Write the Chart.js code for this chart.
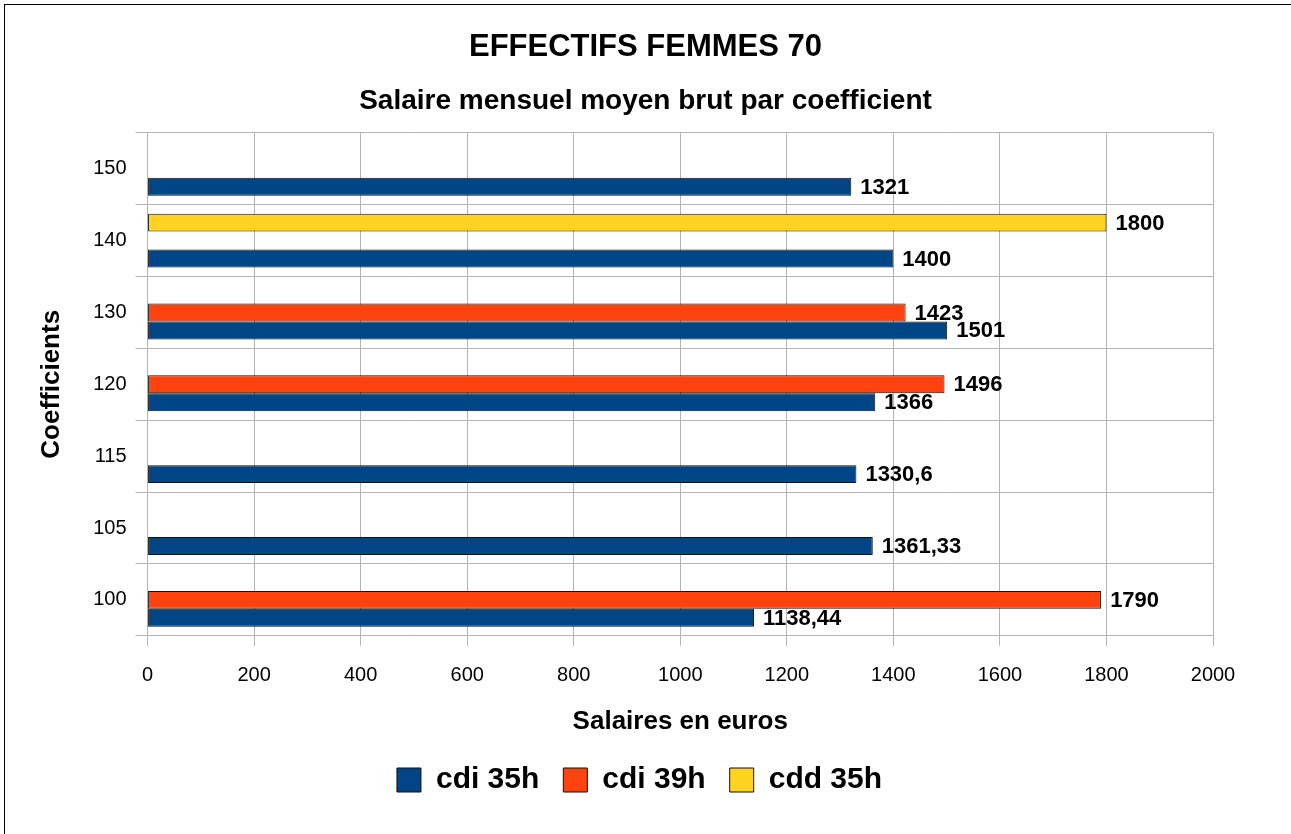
<!DOCTYPE html>
<html lang="fr">
<head>
<meta charset="UTF-8">
<title>EFFECTIFS FEMMES 70</title>
<script src="https://cdn.jsdelivr.net/npm/chart.js@4.4.1/dist/chart.umd.min.js"></script>
<style>
html, body {
margin: 0;
padding: 0;
background: #fff;
overflow: hidden;
}
.frame {
position: absolute;
left: 4px;
top: 4px;
width: 1300px;
height: 840px;
border-top: 1px solid #000;
border-left: 1px solid #000;
}
.wrap {
position: absolute;
left: 0;
top: 0;
width: 1291px;
height: 834px;
}
</style>
</head>
<body>
<div class="frame"></div>
<div class="wrap"><canvas id="chart"></canvas></div>
<script>
// coefficients, top to bottom
const coefficients = ['150', '140', '130', '120', '115', '105', '100'];
const cdi35h = [1321, 1400, 1501, 1366, 1330.6, 1361.33, 1138.44];
const cdi39h = [null, null, 1423, 1496, null, null, 1790];
const cdd35h = [null, 1800, null, null, null, null, null];
const xTicks = [0, 200, 400, 600, 800, 1000, 1200, 1400, 1600, 1800, 2000];

const FONT = "'Liberation Sans', Arial, sans-serif";

// value labels at the end of each bar
const barLabels = {
id: 'barLabels',
afterDatasetsDraw(chart) {
const ctx = chart.ctx;
ctx.save();
ctx.font = 'bold 22px ' + FONT;
ctx.fillStyle = '#000';
ctx.textAlign = 'left';
ctx.textBaseline = 'middle';
chart.data.datasets.forEach((ds, i) => {
const meta = chart.getDatasetMeta(i);
meta.data.forEach((bar, j) => {
const v = ds.data[j];
if (v === null || v === undefined) return;
ctx.fillText(String(v).replace('.', ','), bar.x + 9, bar.y + 1);
});
});
ctx.restore();
}
};

// titles centred on the whole page, legend nudged right
const recentre = {
id: 'recentre',
afterLayout(chart) {
chart.boxes.forEach(box => {
if (box === chart.legend) {
box.left += 15;
box.right += 15;
} else if (box.position === 'top') {
box.left = 0;
box.right = chart.width;
}
});
}
};

new Chart(document.getElementById('chart'), {
type: 'bar',
data: {
labels: coefficients,
datasets: [
{ label: 'cdd 35h', data: cdd35h, backgroundColor: '#ffd320' },
{ label: 'cdi 39h', data: cdi39h, backgroundColor: '#ff420e' },
{ label: 'cdi 35h', data: cdi35h, backgroundColor: '#004586' }
]
},
options: {
indexAxis: 'y',
responsive: true,
maintainAspectRatio: false,
animation: false,
datasets: {
bar: {
categoryPercentage: 0.75,
barPercentage: 1,
borderColor: '#111',
borderWidth: 1,
borderSkipped: false
}
},
layout: { padding: { left: 36, right: 78, top: 0, bottom: 29 } },
scales: {
x: {
min: 0,
max: 2000,
afterBuildTicks(axis) {
axis.ticks = xTicks.map(v => ({ value: v }));
},
grid: { color: '#b3b3b3', tickLength: 10 },
border: { color: '#b3b3b3' },
ticks: {
color: '#000',
padding: 18,
font: { family: FONT, size: 20 },
callback: v => String(v)
},
title: {
display: true,
text: 'Salaires en euros',
color: '#000',
font: { family: FONT, size: 26, weight: 'bold' },
padding: { top: 0, bottom: 4 }
}
},
y: {
grid: { color: '#b3b3b3', tickLength: 12, offset: true },
border: { color: '#b3b3b3' },
ticks: { color: '#000', padding: 9, font: { family: FONT, size: 20 } },
title: {
display: true,
text: 'Coefficients',
color: '#000',
font: { family: FONT, size: 26, weight: 'bold' },
padding: { top: 0, bottom: 17 }
}
}
},
plugins: {
title: {
display: true,
text: 'EFFECTIFS FEMMES 70',
color: '#000',
font: { family: FONT, size: 31, weight: 'bold' },
padding: { top: 29, bottom: 18 }
},
subtitle: {
display: true,
text: 'Salaire mensuel moyen brut par coefficient',
color: '#000',
font: { family: FONT, size: 28, weight: 'bold' },
padding: { top: 0, bottom: 15 }
},
legend: {
position: 'bottom',
reverse: true,
labels: {
color: '#000',
boxWidth: 24,
boxHeight: 24,
padding: 24,
font: { family: FONT, size: 30, weight: 'bold' }
}
},
tooltip: { enabled: false }
}
},
plugins: [barLabels, recentre]
});
</script>
</body>
</html>
